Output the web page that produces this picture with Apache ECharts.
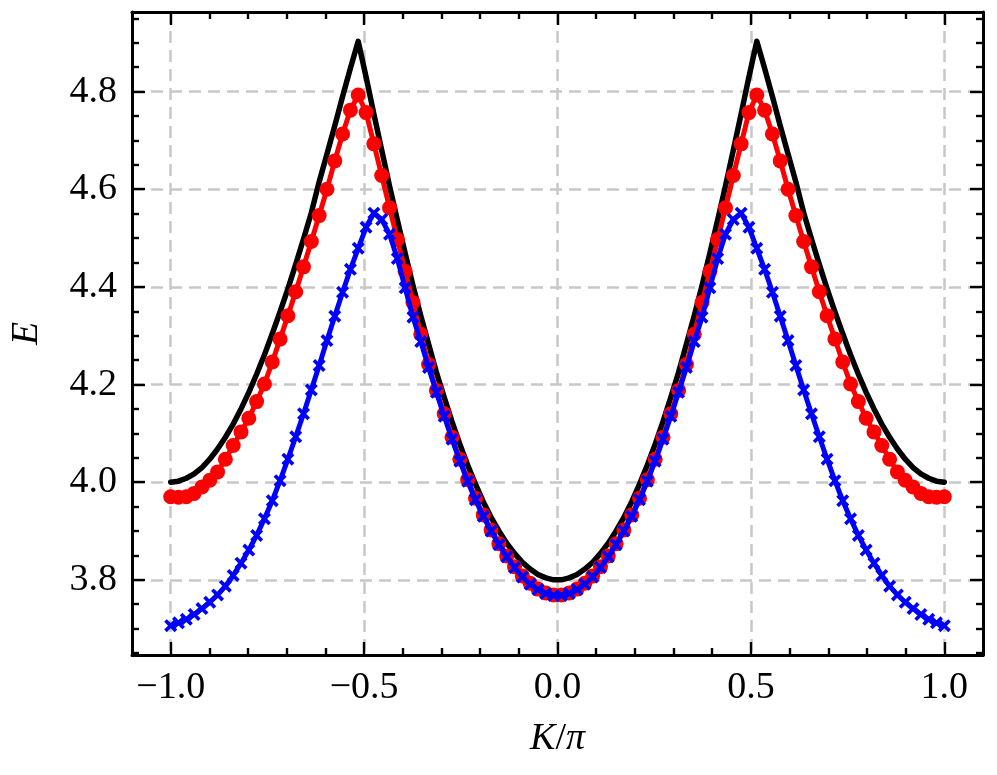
<!DOCTYPE html>
<html>
	<head>
		<meta charset="UTF-8">
		<title></title>
		<script src="https://cdn.jsdelivr.net/npm/echarts@6/dist/echarts.min.js"></script>
		<style>
			html, body { margin: 0; padding: 0; background: #fff; }
			#main { width: 997px; height: 775px; }
		</style>
	</head>
	<body>
		<div id="main"></div>
		<script type="text/javascript">
			// K/pi sample points
			var kx = [
				-1.0000, -0.9798, -0.9596, -0.9394, -0.9192, -0.8990, -0.8788, -0.8586, -0.8384, -0.8182,
				-0.7980, -0.7778, -0.7576, -0.7374, -0.7172, -0.6970, -0.6768, -0.6566, -0.6364, -0.6162,
				-0.5960, -0.5758, -0.5556, -0.5354, -0.5152, -0.4949, -0.4747, -0.4545, -0.4343, -0.4141,
				-0.3939, -0.3737, -0.3535, -0.3333, -0.3131, -0.2929, -0.2727, -0.2525, -0.2323, -0.2121,
				-0.1919, -0.1717, -0.1515, -0.1313, -0.1111, -0.0909, -0.0707, -0.0505, -0.0303, -0.0101,
				0.0101, 0.0303, 0.0505, 0.0707, 0.0909, 0.1111, 0.1313, 0.1515, 0.1717, 0.1919,
				0.2121, 0.2323, 0.2525, 0.2727, 0.2929, 0.3131, 0.3333, 0.3535, 0.3737, 0.3939,
				0.4141, 0.4343, 0.4545, 0.4747, 0.4949, 0.5152, 0.5354, 0.5556, 0.5758, 0.5960,
				0.6162, 0.6364, 0.6566, 0.6768, 0.6970, 0.7172, 0.7374, 0.7576, 0.7778, 0.7980,
				0.8182, 0.8384, 0.8586, 0.8788, 0.8990, 0.9192, 0.9394, 0.9596, 0.9798, 1.0000
			];
			// black line
			var eBlack = [
				4.000, 4.002, 4.008, 4.017, 4.030, 4.047, 4.068, 4.092, 4.119, 4.150,
				4.184, 4.221, 4.261, 4.304, 4.349, 4.396, 4.446, 4.498, 4.552, 4.615,
				4.672, 4.730, 4.790, 4.848, 4.903, 4.830, 4.754, 4.680, 4.607, 4.537,
				4.469, 4.403, 4.341, 4.283, 4.225, 4.174, 4.124, 4.078, 4.035, 3.996,
				3.960, 3.928, 3.900, 3.875, 3.854, 3.836, 3.822, 3.811, 3.804, 3.800,
				3.800, 3.804, 3.811, 3.822, 3.836, 3.854, 3.875, 3.900, 3.928, 3.960,
				3.996, 4.035, 4.078, 4.124, 4.174, 4.225, 4.283, 4.341, 4.403, 4.469,
				4.537, 4.607, 4.680, 4.754, 4.830, 4.903, 4.848, 4.790, 4.730, 4.672,
				4.615, 4.552, 4.498, 4.446, 4.396, 4.349, 4.304, 4.261, 4.221, 4.184,
				4.150, 4.119, 4.092, 4.068, 4.047, 4.030, 4.017, 4.008, 4.002, 4.000
			];
			// red circles
			var eRed = [
				3.970, 3.969, 3.970, 3.977, 3.990, 4.004, 4.021, 4.047, 4.075, 4.103,
				4.131, 4.165, 4.201, 4.246, 4.293, 4.341, 4.390, 4.441, 4.493, 4.546,
				4.600, 4.658, 4.713, 4.762, 4.793, 4.757, 4.693, 4.628, 4.562, 4.497,
				4.432, 4.368, 4.303, 4.241, 4.188, 4.140, 4.092, 4.047, 4.005, 3.967,
				3.933, 3.902, 3.874, 3.849, 3.827, 3.808, 3.793, 3.781, 3.773, 3.769,
				3.769, 3.773, 3.781, 3.793, 3.808, 3.827, 3.849, 3.874, 3.902, 3.933,
				3.967, 4.005, 4.047, 4.092, 4.140, 4.188, 4.241, 4.303, 4.368, 4.432,
				4.497, 4.562, 4.628, 4.693, 4.757, 4.793, 4.762, 4.713, 4.658, 4.600,
				4.546, 4.493, 4.441, 4.390, 4.341, 4.293, 4.246, 4.201, 4.165, 4.131,
				4.103, 4.075, 4.047, 4.021, 4.004, 3.990, 3.977, 3.970, 3.969, 3.970
			];
			// blue crosses
			var eBlue = [
				3.706, 3.712, 3.719, 3.729, 3.741, 3.754, 3.769, 3.787, 3.809, 3.834,
				3.861, 3.891, 3.925, 3.962, 4.003, 4.047, 4.093, 4.140, 4.189, 4.239,
				4.290, 4.340, 4.389, 4.436, 4.479, 4.522, 4.551, 4.538, 4.508, 4.458,
				4.398, 4.338, 4.288, 4.235, 4.184, 4.135, 4.088, 4.043, 4.002, 3.964,
				3.930, 3.900, 3.872, 3.847, 3.825, 3.806, 3.791, 3.780, 3.772, 3.768,
				3.768, 3.772, 3.780, 3.791, 3.806, 3.825, 3.847, 3.872, 3.900, 3.930,
				3.964, 4.002, 4.043, 4.088, 4.135, 4.184, 4.235, 4.288, 4.338, 4.398,
				4.458, 4.508, 4.538, 4.551, 4.522, 4.479, 4.436, 4.389, 4.340, 4.290,
				4.239, 4.189, 4.140, 4.093, 4.047, 4.003, 3.962, 3.925, 3.891, 3.861,
				3.834, 3.809, 3.787, 3.769, 3.754, 3.741, 3.729, 3.719, 3.712, 3.706
			];
			// tick values
			var xMajor = [-1.0, -0.5, 0.0, 0.5, 1.0];
			var xMinor = [-0.9, -0.8, -0.7, -0.6, -0.4, -0.3, -0.2, -0.1, 0.1, 0.2, 0.3, 0.4, 0.6, 0.7, 0.8, 0.9];
			var yMajor = [3.8, 4.0, 4.2, 4.4, 4.6, 4.8];
			var yMinor = [3.65, 3.7, 3.75, 3.85, 3.9, 3.95, 4.05, 4.1, 4.15, 4.25, 4.3, 4.35, 4.45, 4.5, 4.55, 4.65, 4.7, 4.75, 4.85, 4.9, 4.95];

			var xMin = -1.1, xMax = 1.1;
			var yMin = 3.646, yMax = 4.963;

			var font = 'Liberation Serif';
			var crossPath = 'path://M2,0 L5,3 L8,0 L10,2 L7,5 L10,8 L8,10 L5,7 L2,10 L0,8 L3,5 L0,2 Z';

			function pairs(ys) {
				var out = [];
				for (var i = 0; i < kx.length; i++) out.push([kx[i], ys[i]]);
				return out;
			}

			function fmt(v) {
				if (Math.abs(v) < 1e-9) return '0.0';
				var s = v.toFixed(1);
				return v < 0 ? '\u2212' + s.substring(1) : s;
			}

			// one axis for major ticks (with line/labels) and one for minor ticks, on each side
			function xAxisDef(pos, ticks, len, main) {
				return {
					type: 'value', position: pos, min: xMin, max: xMax, splitNumber: 5,
					axisLine: { show: main, onZero: false, lineStyle: { color: '#000', width: 3 } },
					axisTick: { show: true, inside: true, length: len, customValues: ticks, lineStyle: { color: '#000', width: 2.4 } },
					axisLabel: { show: main && pos === 'bottom', customValues: xMajor, formatter: fmt, margin: 14,
						color: '#000', fontFamily: font, fontSize: 38 },
					splitLine: { show: main && pos === 'bottom', lineStyle: { color: '#c8c8c8', width: 2.5, type: [12, 7] } },
					name: main && pos === 'bottom' ? '{i|K}/{i|\u03c0}' : '',
					nameLocation: 'middle', nameGap: 65,
					nameTextStyle: { color: '#000', fontFamily: font, fontSize: 38,
						rich: { i: { fontStyle: 'italic', fontFamily: font, fontSize: 38, color: '#000' } } }
				};
			}

			function yAxisDef(pos, ticks, len, main) {
				return {
					type: 'value', position: pos, min: yMin, max: yMax, splitNumber: 6,
					axisLine: { show: main, onZero: false, lineStyle: { color: '#000', width: 3 } },
					axisTick: { show: true, inside: true, length: len, customValues: ticks, lineStyle: { color: '#000', width: 2.4 } },
					axisLabel: { show: main && pos === 'left', customValues: yMajor, formatter: fmt, margin: 15,
						color: '#000', fontFamily: font, fontSize: 38 },
					splitLine: { show: main && pos === 'left', lineStyle: { color: '#c8c8c8', width: 2.5, type: [12, 7] } },
					name: main && pos === 'left' ? 'E' : '',
					nameLocation: 'middle', nameGap: 86, nameRotate: 90,
					nameTextStyle: { color: '#000', fontFamily: font, fontSize: 38, fontStyle: 'italic' }
				};
			}

			var chart = echarts.init(document.getElementById('main'), null, { renderer: 'canvas' });
			chart.setOption({
				animation: false,
				backgroundColor: '#fff',
				grid: { left: 131, top: 12, width: 852, height: 643 },
				xAxis: [
					xAxisDef('bottom', xMajor, 13, true),
					xAxisDef('bottom', xMinor, 7, false),
					xAxisDef('top', xMajor, 13, true),
					xAxisDef('top', xMinor, 7, false)
				],
				yAxis: [
					yAxisDef('left', yMajor, 13, true),
					yAxisDef('left', yMinor, 7, false),
					yAxisDef('right', yMajor, 13, true),
					yAxisDef('right', yMinor, 7, false)
				],
				series: [{
					type: 'line',
					data: pairs(eBlack),
					showSymbol: false,
					symbol: 'none',
					lineStyle: { color: '#000', width: 5.5, join: 'round', cap: 'round' },
					z: 2
				}, {
					type: 'line',
					data: pairs(eRed),
					symbol: 'circle',
					symbolSize: 15,
					itemStyle: { color: '#ff0000' },
					lineStyle: { color: '#ff0000', width: 5, join: 'round' },
					z: 3
				}, {
					type: 'line',
					data: pairs(eBlue),
					symbol: crossPath,
					symbolSize: 13,
					itemStyle: { color: '#0000ff' },
					lineStyle: { color: '#0000ff', width: 5, join: 'round' },
					z: 4
				}]
			});
		</script>
	</body>
</html>
